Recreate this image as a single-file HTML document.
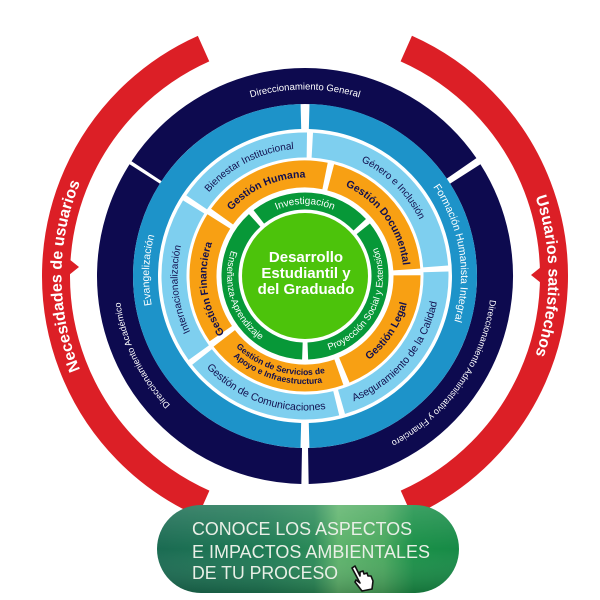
<!DOCTYPE html>
<html><head><meta charset="utf-8"><style>
html,body{margin:0;padding:0;background:#fff;width:600px;height:600px;overflow:hidden}
svg{display:block}
text{font-family:"Liberation Sans",sans-serif}
.b{font-weight:700}
</style></head><body>
<svg width="600" height="600" viewBox="0 0 600 600" xmlns="http://www.w3.org/2000/svg">
<defs>
<path id="c186" d="M305,462.5 A186.5,186.5 0 1 1 305,89.5 A186.5,186.5 0 1 1 305,462.5"/>
<path id="c156" d="M305,432 A156,156 0 1 1 305,120 A156,156 0 1 1 305,432"/>
<path id="c127" d="M305,403.5 A127.5,127.5 0 1 1 305,148.5 A127.5,127.5 0 1 1 305,403.5"/>
<path id="c98" d="M305,374.5 A98.5,98.5 0 1 1 305,177.5 A98.5,98.5 0 1 1 305,374.5"/>
<path id="c72" d="M305,348 A72,72 0 1 1 305,204 A72,72 0 1 1 305,348"/>
<path id="c243" d="M305,519.5 A243.5,243.5 0 1 1 305,32.5 A243.5,243.5 0 1 1 305,519.5"/>
<path id="a134" d="M305,141.5 A134.5,134.5 0 1 0 305,410.5 A134.5,134.5 0 1 0 305,141.5"/>
<path id="a105" d="M305,170.5 A105.5,105.5 0 1 0 305,381.5 A105.5,105.5 0 1 0 305,170.5"/>
<path id="a108" d="M305,168 A108,108 0 1 0 305,384 A108,108 0 1 0 305,168"/>
<path id="a99" d="M305,177 A99,99 0 1 0 305,375 A99,99 0 1 0 305,177"/>
<path id="a78" d="M305,198 A78,78 0 1 0 305,354 A78,78 0 1 0 305,198"/>
<linearGradient id="btn" x1="0" y1="0" x2="1" y2="0">
<stop offset="0" stop-color="#1a6b52"/><stop offset="0.35" stop-color="#1f7a55"/>
<stop offset="0.52" stop-color="#2a8a58"/><stop offset="0.6" stop-color="#5db36b"/>
<stop offset="0.75" stop-color="#4aa85e"/><stop offset="0.85" stop-color="#1a9048"/><stop offset="1" stop-color="#168a46"/>
</linearGradient>
<linearGradient id="sh" x1="0" y1="0" x2="0" y2="1">
<stop offset="0" stop-color="#fff" stop-opacity="0.15"/><stop offset="0.5" stop-color="#fff" stop-opacity="0"/><stop offset="1" stop-color="#000" stop-opacity="0.2"/>
</linearGradient>
</defs>

<g fill="none" stroke="#dc1f26" stroke-width="28">
<circle cx="305" cy="276" r="249" pathLength="360" stroke-dasharray="132 360" transform="rotate(114 305 276)"/>
<circle cx="305" cy="276" r="249" pathLength="360" stroke-dasharray="132 360" transform="rotate(-66 305 276)"/>
</g>
<polygon points="69,259 79,267 69,275" fill="#dc1f26"/>
<polygon points="541,267 531,275 541,283" fill="#dc1f26"/>

<g fill="none" stroke="#0d0a4f" stroke-width="36">
<circle cx="305" cy="276" r="190" pathLength="360" stroke-dasharray="112 360" transform="rotate(-146.5 305 276)"/>
<circle cx="305" cy="276" r="190" pathLength="360" stroke-dasharray="121.5 360" transform="rotate(-32.5 305 276)"/>
<circle cx="305" cy="276" r="190" pathLength="360" stroke-dasharray="121.5 360" transform="rotate(91 305 276)"/>
</g>
<g fill="none" stroke="#1d93c9" stroke-width="25">
<circle cx="305" cy="276" r="159.5" pathLength="360" stroke-dasharray="177 360" transform="rotate(-88.5 305 276)"/>
<circle cx="305" cy="276" r="159.5" pathLength="360" stroke-dasharray="177 360" transform="rotate(91.5 305 276)"/>
</g>
<g fill="none" stroke="#7ecfef" stroke-width="25">
<circle cx="305" cy="276" r="131" pathLength="360" stroke-dasharray="56.6 360" transform="rotate(-145.8 305 276)"/>
<circle cx="305" cy="276" r="131" pathLength="360" stroke-dasharray="82.6 360" transform="rotate(-86.8 305 276)"/>
<circle cx="305" cy="276" r="131" pathLength="360" stroke-dasharray="75.6 360" transform="rotate(-1.8 305 276)"/>
<circle cx="305" cy="276" r="131" pathLength="360" stroke-dasharray="65.6 360" transform="rotate(76.2 305 276)"/>
<circle cx="305" cy="276" r="131" pathLength="360" stroke-dasharray="67.6 360" transform="rotate(144.2 305 276)"/>
</g>
<g fill="none" stroke="#f8a013" stroke-width="27">
<circle cx="305" cy="276" r="102" pathLength="360" stroke-dasharray="65.8 360" transform="rotate(-144.4 305 276)"/>
<circle cx="305" cy="276" r="102" pathLength="360" stroke-dasharray="71.8 360" transform="rotate(-75.4 305 276)"/>
<circle cx="305" cy="276" r="102" pathLength="360" stroke-dasharray="67.8 360" transform="rotate(-0.4 305 276)"/>
<circle cx="305" cy="276" r="102" pathLength="360" stroke-dasharray="71.8 360" transform="rotate(70.6 305 276)"/>
<circle cx="305" cy="276" r="102" pathLength="360" stroke-dasharray="66.8 360" transform="rotate(145.6 305 276)"/>
</g>
<g fill="none" stroke="#079838" stroke-width="17">
<circle cx="305" cy="276" r="75" pathLength="360" stroke-dasharray="85 360" transform="rotate(-128 305 276)"/>
<circle cx="305" cy="276" r="75" pathLength="360" stroke-dasharray="127 360" transform="rotate(-39 305 276)"/>
<circle cx="305" cy="276" r="75" pathLength="360" stroke-dasharray="136 360" transform="rotate(92 305 276)"/>
</g>
<circle cx="305" cy="276" r="63" fill="#4cc30b"/>

<g class="b" style="font-weight:700" font-size="15" fill="#fff" text-anchor="middle">
<text x="306" y="262">Desarrollo</text>
<text x="306" y="278">Estudiantil y</text>
<text x="306" y="294">del Graduado</text>
</g>

<g font-size="9.5" fill="#fff" text-anchor="middle">
<text><textPath href="#c186" startOffset="50%">Direccionamiento General</textPath></text>
<text font-size="9"><textPath href="#c186" startOffset="17.8%">Direccionamiento Académico</textPath></text>
<text font-size="9"><textPath href="#c186" startOffset="84.7%">Direccionamiento Administrativo y Financiero</textPath></text>
<text font-size="10.5"><textPath href="#c156" startOffset="25.6%">Evangelización</textPath></text>
<text font-size="10.5"><textPath href="#c156" startOffset="72.5%">Formación Humanista Integral</textPath></text>
<text font-size="10"><textPath href="#c72" startOffset="50%">Investigación</textPath></text>
<text font-size="9.5"><textPath href="#a78" startOffset="30%">Enseñanza-Aprendizaje</textPath></text>
<text font-size="9.5"><textPath href="#a78" startOffset="68%">Proyección Social y Extensión</textPath></text>
<text font-size="16" style="font-weight:700"><textPath href="#c243" startOffset="25%">Necesidades de usuarios</textPath></text>
<text font-size="16" style="font-weight:700"><textPath href="#c243" startOffset="75%">Usuarios satisfechos</textPath></text>
</g>
<g font-size="10" fill="#12104f" text-anchor="middle">
<text><textPath href="#c127" startOffset="42.5%">Bienestar Institucional</textPath></text>
<text><textPath href="#c127" startOffset="62.5%">Género e Inclusión</textPath></text>
<text><textPath href="#c127" startOffset="23.3%">Internacionalización</textPath></text>
<text font-size="10.5"><textPath href="#a134" startOffset="63.9%">Aseguramiento de la Calidad</textPath></text>
<text font-size="10.5"><textPath href="#a134" startOffset="44.7%">Gestión de Comunicaciones</textPath></text>
</g>
<g font-size="10.5" style="font-weight:700" fill="#12104f" text-anchor="middle">
<text><textPath href="#c98" startOffset="43.3%">Gestión Humana</textPath></text>
<text><textPath href="#c98" startOffset="65%">Gestión Documental</textPath></text>
<text><textPath href="#c98" startOffset="22.8%">Gestión Financiera</textPath></text>
<text><textPath href="#a105" startOffset="65.6%">Gestión Legal</textPath></text>
<text font-size="8.5"><textPath href="#a99" startOffset="45.5%">Gestión de Servicios de</textPath></text>
<text font-size="8.5"><textPath href="#a108" startOffset="45.5%">Apoyo e Infraestructura</textPath></text>
</g>

<rect x="157" y="505" width="302" height="88" rx="44" fill="url(#btn)"/>
<rect x="157" y="505" width="302" height="88" rx="44" fill="url(#sh)"/>
<g fill="#e9efe6" font-size="18.5">
<text x="192" y="535" textLength="220" lengthAdjust="spacingAndGlyphs">CONOCE LOS ASPECTOS</text>
<text x="192" y="558" textLength="238" lengthAdjust="spacingAndGlyphs">E IMPACTOS AMBIENTALES</text>
<text x="192" y="579" textLength="146" lengthAdjust="spacingAndGlyphs">DE TU PROCESO</text>
</g>
<path d="M352,568 l3,-2 l5,10 l0,-4 l3,-1 l1,3 l3,-1 l1,3 l3,0 l2,5 l-1,8 l-10,2 l-7,-9 l1,-2 l4,3 z" fill="#fff" stroke="#111" stroke-width="1.6" stroke-linejoin="round"/>
</svg>
</body></html>
